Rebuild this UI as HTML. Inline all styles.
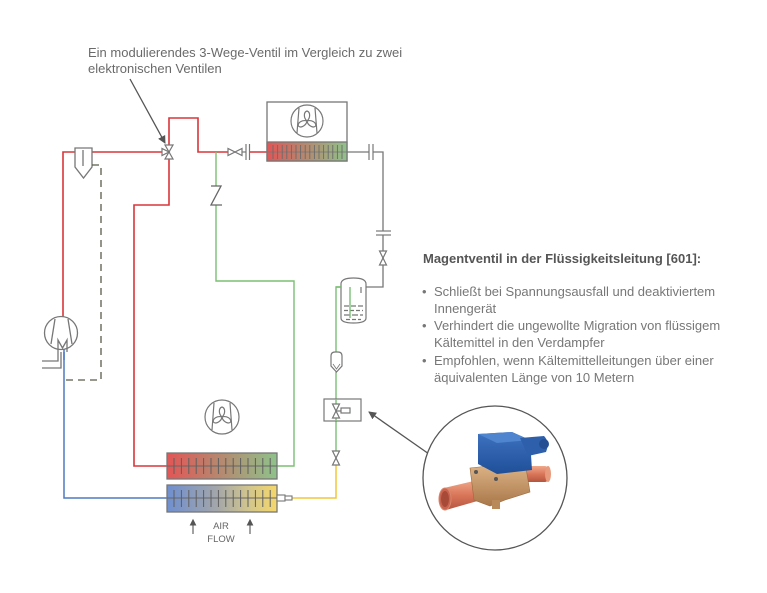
<!DOCTYPE html>
<html><head><meta charset="utf-8"><style>
html,body{margin:0;padding:0;background:#fff;}
svg{display:block;}
text{font-family:"Liberation Sans",Arial,sans-serif;}
</style></head><body>
<svg width="767" height="593" viewBox="0 0 767 593" xmlns="http://www.w3.org/2000/svg">
<defs>
<linearGradient id="cg" x1="0" x2="1" y1="0" y2="0">
<stop offset="0" stop-color="#e25656"/><stop offset="0.5" stop-color="#b48a70"/><stop offset="1" stop-color="#8fc28b"/>
</linearGradient>
<linearGradient id="eg" x1="0" x2="1" y1="0" y2="0">
<stop offset="0" stop-color="#6f8fcf"/><stop offset="0.45" stop-color="#a3a6aa"/><stop offset="0.75" stop-color="#d3c68c"/><stop offset="1" stop-color="#f5d76a"/>
</linearGradient>
<linearGradient id="blue" x1="0" x2="0" y1="0" y2="1">
<stop offset="0" stop-color="#3e72c0"/><stop offset="1" stop-color="#1f4f98"/>
</linearGradient>
<linearGradient id="brass" x1="0" x2="0" y1="0" y2="1">
<stop offset="0" stop-color="#e0b88a"/><stop offset="1" stop-color="#a9774a"/>
</linearGradient>
<linearGradient id="copper" x1="0" x2="0" y1="0" y2="1">
<stop offset="0" stop-color="#f0a88a"/><stop offset="0.5" stop-color="#d9765a"/><stop offset="1" stop-color="#b5553f"/>
</linearGradient>
<marker id="ah" markerWidth="8" markerHeight="8" refX="7" refY="4" orient="auto" markerUnits="userSpaceOnUse">
<path d="M0,0 L8,4 L0,8 Z" fill="#555"/>
</marker>
</defs>

<!-- annotation top -->
<text x="88" y="57" font-size="13" fill="#6a6a6a">Ein modulierendes 3-Wege-Ventil im Vergleich zu zwei</text>
<text x="88" y="73" font-size="13" fill="#6a6a6a">elektronischen Ventilen</text>
<line x1="130" y1="79" x2="165" y2="143" stroke="#555" stroke-width="1.3" marker-end="url(#ah)"/>

<!-- RED pipes -->
<g fill="none" stroke="#d9363a" stroke-width="1.6">
<path d="M63,317 L63,152 L75,152"/>
<path d="M92,152 L164,152"/>
<path d="M169,147 L169,118 L198,118 L198,152 L228,152"/>
<path d="M250,152 L267,152"/>
<path d="M169,157 L169,205 L134,205 L134,466 L167,466"/>
</g>
<!-- GREEN pipes -->
<g fill="none" stroke="#7bbf73" stroke-width="1.4">
<path d="M216,152 L216,186"/>
<path d="M216,205 L216,281 L294,281 L294,466 L277,466"/>
<path d="M350,318 L350,287 L336,287 L336,352"/>
<path d="M336,372 L336,452"/>
</g>
<!-- BLUE pipe -->
<path d="M64,352 L64,498 L167,498" fill="none" stroke="#4d7ac4" stroke-width="1.5"/>
<!-- YELLOW pipe -->
<path d="M292,498 L336,498 L336,464" fill="none" stroke="#f0c53a" stroke-width="1.5"/>
<!-- GRAY pipes right -->
<g fill="none" stroke="#777" stroke-width="1.3">
<path d="M347,152 L369,152"/>
<path d="M373,152 L383,152 L383,231"/>
<path d="M383,235 L383,287 L361,287 L361,293"/>
</g>

<!-- oil separator -->
<g fill="#fff" stroke="#777" stroke-width="1.3">
<path d="M75,148 L92,148 L92,167 L83.5,178 L75,167 Z"/>
<line x1="83" y1="150" x2="83" y2="166"/>
</g>
<!-- dashed line -->
<path d="M92,165 L101,165 L101,380 L64,380" fill="none" stroke="#5a5a48" stroke-width="1.3" stroke-dasharray="7,5"/>

<!-- compressor -->
<g fill="none" stroke="#777" stroke-width="1.3">
<circle cx="61" cy="333" r="16.5" fill="#fff"/>
<line x1="55" y1="319" x2="51" y2="344"/>
<line x1="68" y1="319" x2="72" y2="344"/>
<path d="M58,352 L58,340 L62.5,348 L67,340 L67,352"/>
<path d="M42,361 L58,361 L58,352"/>
<path d="M42,368 L61,368 L61,352"/>
</g>
<line x1="64" y1="349" x2="64" y2="360" stroke="#4d7ac4" stroke-width="1.5"/>

<!-- 3-way valve -->
<g fill="#fff" stroke="#777" stroke-width="1.2">
<path d="M165,145 L173,145 L169,152 Z"/>
<path d="M165,159 L173,159 L169,152 Z"/>
<path d="M162,148.5 L162,155.5 L169,152 Z"/>
</g>

<!-- small valve + unions top -->
<g fill="#fff" stroke="#777" stroke-width="1.2">
<path d="M228,148.5 L228,155.5 L235,152 Z"/>
<path d="M242,148.5 L242,155.5 L235,152 Z"/>
<line x1="242" y1="152" x2="246" y2="152"/>
<line x1="246" y1="144" x2="246" y2="160"/>
<line x1="249.5" y1="144" x2="249.5" y2="160"/>
<line x1="369" y1="144" x2="369" y2="160"/>
<line x1="373" y1="144" x2="373" y2="160"/>
<line x1="376" y1="231" x2="391" y2="231"/>
<line x1="376" y1="235" x2="391" y2="235"/>
</g>

<!-- check valve Z -->
<path d="M211,186 L221,186 L211,205 L222,205" fill="none" stroke="#666" stroke-width="1.3"/>

<!-- condenser unit -->
<rect x="267" y="102" width="80" height="59" fill="#fff" stroke="#777" stroke-width="1.3"/>
<rect x="267" y="142" width="80" height="19" fill="url(#cg)" stroke="#777" stroke-width="1.3"/>
<line x1="267" y1="152" x2="347" y2="152" stroke="#777" stroke-width="1" opacity="0.8"/>
<g stroke="#6a6a6a" stroke-width="0.9">
<line x1="273" y1="145" x2="273" y2="159"/><line x1="277.6" y1="145" x2="277.6" y2="159"/><line x1="282.2" y1="145" x2="282.2" y2="159"/><line x1="286.8" y1="145" x2="286.8" y2="159"/><line x1="291.4" y1="145" x2="291.4" y2="159"/><line x1="296" y1="145" x2="296" y2="159"/><line x1="300.6" y1="145" x2="300.6" y2="159"/><line x1="305.2" y1="145" x2="305.2" y2="159"/><line x1="309.8" y1="145" x2="309.8" y2="159"/><line x1="314.4" y1="145" x2="314.4" y2="159"/><line x1="319" y1="145" x2="319" y2="159"/><line x1="323.6" y1="145" x2="323.6" y2="159"/><line x1="328.2" y1="145" x2="328.2" y2="159"/><line x1="332.8" y1="145" x2="332.8" y2="159"/><line x1="337.4" y1="145" x2="337.4" y2="159"/><line x1="342" y1="145" x2="342" y2="159"/>
</g>
<g transform="translate(307,121)" fill="none" stroke="#777" stroke-width="1.2">
<circle r="16"/>
<line x1="-8" y1="-13" x2="-10" y2="12"/>
<line x1="8" y1="-13" x2="10" y2="12"/>
<path d="M0,0 C-3.5,-3 -3.5,-9 0,-10 C3.5,-9 3.5,-3 0,0"/>
<path d="M0,0 C-3.5,-3 -3.5,-9 0,-10 C3.5,-9 3.5,-3 0,0" transform="rotate(120)"/>
<path d="M0,0 C-3.5,-3 -3.5,-9 0,-10 C3.5,-9 3.5,-3 0,0" transform="rotate(240)"/>
</g>

<!-- receiver -->
<g fill="none" stroke="#777" stroke-width="1.2">
<path d="M341,284 Q341,278 353.5,278 Q366,278 366,284 L366,318 Q366,323 353.5,323 Q341,323 341,318 Z" fill="#fff"/>
<line x1="361" y1="287" x2="361" y2="293"/>
<line x1="344" y1="306" x2="363" y2="306" stroke-dasharray="5,2"/>
<line x1="344" y1="310.5" x2="363" y2="310.5" stroke-dasharray="4,2"/>
<line x1="344" y1="315" x2="363" y2="315" stroke-dasharray="6,2"/>
<line x1="346" y1="319.5" x2="361" y2="319.5" stroke-dasharray="4,2"/>
</g>
<line x1="350" y1="287" x2="350" y2="318" stroke="#7bbf73" stroke-width="1.4"/>
<line x1="336" y1="287" x2="341" y2="287" stroke="#7bbf73" stroke-width="1.4"/>

<!-- valve on gray vertical -->
<g fill="#fff" stroke="#777" stroke-width="1.2">
<path d="M379.5,251 L386.5,251 L383,258 Z"/>
<path d="M379.5,265 L386.5,265 L383,258 Z"/>
</g>

<!-- sight glass / filter -->
<path d="M331,356 Q331,352 335,352 L338,352 Q342,352 342,356 L342,366 L336.5,372 L331,366 Z" fill="#fff" stroke="#777" stroke-width="1.2"/>
<path d="M333,364 L336.5,369 L340,364" fill="none" stroke="#777" stroke-width="0.8"/>

<!-- solenoid valve box -->
<rect x="324" y="399" width="37" height="22" fill="#fff" stroke="#777" stroke-width="1.2"/>
<line x1="336" y1="399" x2="336" y2="421" stroke="#7bbf73" stroke-width="1.4"/>
<g fill="#fff" stroke="#777" stroke-width="1.2">
<path d="M332.5,404 L339.5,404 L336,411 Z"/>
<path d="M332.5,418 L339.5,418 L336,411 Z"/>
<line x1="336" y1="411" x2="341" y2="411"/>
<rect x="341" y="408" width="9" height="5"/>
</g>
<!-- bottom valve -->
<g fill="#fff" stroke="#777" stroke-width="1.2">
<path d="M332.5,451 L339.5,451 L336,458 Z"/>
<path d="M332.5,465 L339.5,465 L336,458 Z"/>
</g>

<!-- arrow to photo -->
<line x1="429" y1="454" x2="369" y2="412" stroke="#555" stroke-width="1.3" marker-end="url(#ah)"/>

<!-- indoor fan -->
<g transform="translate(222,417)" fill="none" stroke="#777" stroke-width="1.2">
<circle r="17"/>
<line x1="-8" y1="-14" x2="-10" y2="13"/>
<line x1="8" y1="-14" x2="10" y2="13"/>
<path d="M0,0 C-3.5,-3 -3.5,-9 0,-10 C3.5,-9 3.5,-3 0,0"/>
<path d="M0,0 C-3.5,-3 -3.5,-9 0,-10 C3.5,-9 3.5,-3 0,0" transform="rotate(120)"/>
<path d="M0,0 C-3.5,-3 -3.5,-9 0,-10 C3.5,-9 3.5,-3 0,0" transform="rotate(240)"/>
</g>

<!-- top coil -->
<rect x="167" y="453" width="110" height="26" fill="url(#cg)" stroke="#777" stroke-width="1.3"/>
<line x1="167" y1="466" x2="277" y2="466" stroke="#666" stroke-width="1"/>
<g stroke="#5f5f5f" stroke-width="1">
<line x1="174" y1="458" x2="174" y2="474"/><line x1="181.4" y1="458" x2="181.4" y2="474"/><line x1="188.8" y1="458" x2="188.8" y2="474"/><line x1="196.2" y1="458" x2="196.2" y2="474"/><line x1="203.6" y1="458" x2="203.6" y2="474"/><line x1="211" y1="458" x2="211" y2="474"/><line x1="218.4" y1="458" x2="218.4" y2="474"/><line x1="225.8" y1="458" x2="225.8" y2="474"/><line x1="233.2" y1="458" x2="233.2" y2="474"/><line x1="240.6" y1="458" x2="240.6" y2="474"/><line x1="248" y1="458" x2="248" y2="474"/><line x1="255.4" y1="458" x2="255.4" y2="474"/><line x1="262.8" y1="458" x2="262.8" y2="474"/><line x1="270.2" y1="458" x2="270.2" y2="474"/>
</g>
<!-- bottom coil -->
<rect x="167" y="485" width="110" height="27" fill="url(#eg)" stroke="#777" stroke-width="1.3"/>
<line x1="167" y1="498" x2="277" y2="498" stroke="#666" stroke-width="1"/>
<g stroke="#5f5f5f" stroke-width="1">
<line x1="174" y1="490" x2="174" y2="507"/><line x1="181.4" y1="490" x2="181.4" y2="507"/><line x1="188.8" y1="490" x2="188.8" y2="507"/><line x1="196.2" y1="490" x2="196.2" y2="507"/><line x1="203.6" y1="490" x2="203.6" y2="507"/><line x1="211" y1="490" x2="211" y2="507"/><line x1="218.4" y1="490" x2="218.4" y2="507"/><line x1="225.8" y1="490" x2="225.8" y2="507"/><line x1="233.2" y1="490" x2="233.2" y2="507"/><line x1="240.6" y1="490" x2="240.6" y2="507"/><line x1="248" y1="490" x2="248" y2="507"/><line x1="255.4" y1="490" x2="255.4" y2="507"/><line x1="262.8" y1="490" x2="262.8" y2="507"/><line x1="270.2" y1="490" x2="270.2" y2="507"/>
</g>
<!-- nozzle -->
<g fill="#fff" stroke="#777" stroke-width="1.1">
<rect x="277" y="495" width="8" height="6"/>
<rect x="285" y="496" width="7" height="4"/>
</g>

<!-- air flow -->
<g stroke="#555" stroke-width="1.1" fill="#555">
<line x1="193" y1="534" x2="193" y2="523"/><path d="M190.5,525 L193,520 L195.5,525 Z"/>
<line x1="250" y1="534" x2="250" y2="523"/><path d="M247.5,525 L250,520 L252.5,525 Z"/>
</g>
<text x="221" y="529" font-size="9.5" fill="#666" text-anchor="middle">AIR</text>
<text x="221" y="542" font-size="9.5" fill="#666" text-anchor="middle">FLOW</text>

<!-- right text -->
<text x="423" y="263" font-size="13" font-weight="bold" fill="#555">Magentventil in der Flüssigkeitsleitung [601]:</text>
<g font-size="13" fill="#777">
<text x="422" y="296">•</text>
<text x="434" y="296">Schließt bei Spannungsausfall und deaktiviertem</text>
<text x="434" y="313">Innengerät</text>
<text x="422" y="330">•</text>
<text x="434" y="330">Verhindert die ungewollte Migration von flüssigem</text>
<text x="434" y="347">Kältemittel in den Verdampfer</text>
<text x="422" y="365">•</text>
<text x="434" y="365">Empfohlen, wenn Kältemittelleitungen über einer</text>
<text x="434" y="382">äquivalenten Länge von 10 Metern</text>
</g>

<!-- photo circle -->
<circle cx="495" cy="478" r="72" fill="#fff" stroke="#555" stroke-width="1.3"/>
<!-- right pipe -->
<rect x="520" y="466" width="28" height="16" rx="3" fill="url(#copper)"/>
<ellipse cx="548" cy="474" rx="3" ry="8" fill="#e79a7c"/>
<!-- left pipe -->
<path d="M444,488 L478,480 L481,500 L446,510 Z" fill="url(#copper)"/>
<ellipse cx="445" cy="499" rx="6" ry="11" fill="#c96450" stroke="#d9866a" stroke-width="1"/>
<ellipse cx="445" cy="499" rx="4" ry="8" fill="#a84a38"/>
<!-- brass body -->
<path d="M470,468 L525,462 L530,492 L505,500 L490,506 L474,500 Z" fill="url(#brass)" stroke="#9a6b40" stroke-width="0.6"/>
<rect x="492" y="500" width="8" height="9" fill="#b88a5a"/>
<circle cx="476" cy="472" r="2" fill="#555"/>
<circle cx="510" cy="470" r="2" fill="#555"/>
<circle cx="496" cy="479" r="2" fill="#555"/>
<!-- blue coil -->
<path d="M478,434 L512,432 L530,440 L532,470 L497,474 L478,464 Z" fill="url(#blue)"/>
<path d="M478,434 L512,432 L530,440 L497,443 Z" fill="#4f84cf"/>
<path d="M520,438 L544,436 Q550,442 546,452 L528,456 Z" fill="#2e5fab"/>
<circle cx="544" cy="444" r="5" fill="#244f93"/>
</svg>
</body></html>
